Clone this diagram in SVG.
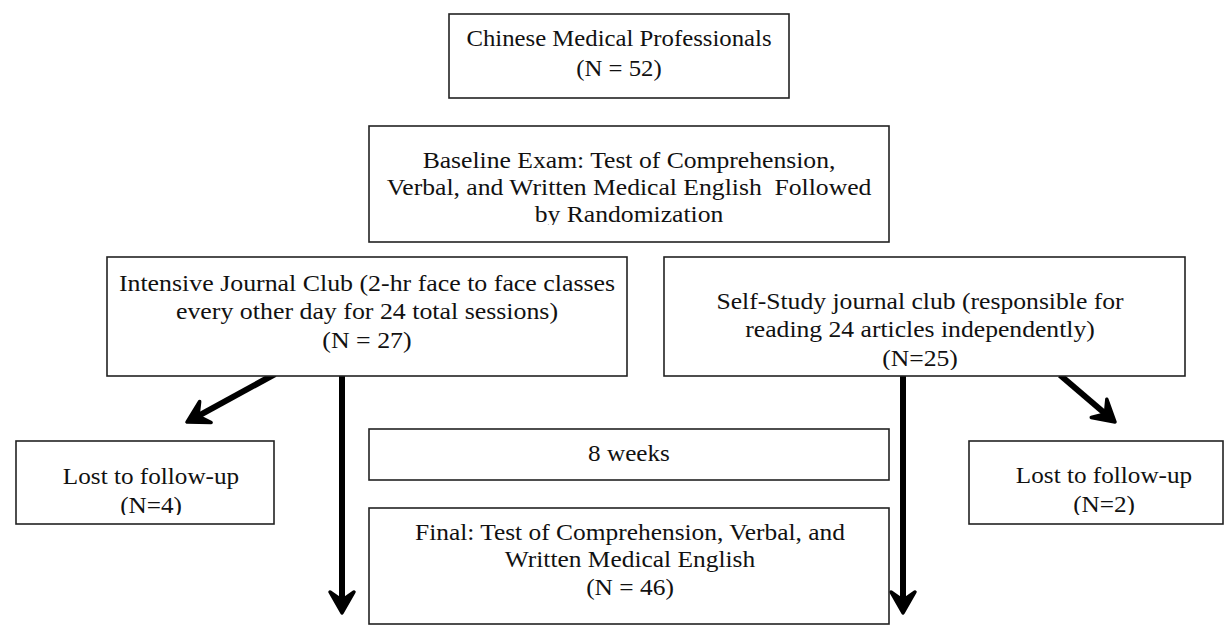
<svg xmlns="http://www.w3.org/2000/svg" width="1225" height="635" viewBox="0 0 1225 635">
<style>
.box{fill:#fff;stroke:#222;stroke-width:1.6}
.t{font-family:"Liberation Serif","Times New Roman",serif;font-size:22.5px;fill:#111;text-anchor:middle}
.con{stroke:#000;stroke-width:6;fill:none}
</style>
<defs>
<marker id="ah" markerUnits="userSpaceOnUse" orient="auto" refX="-12" refY="0" markerWidth="40" markerHeight="40" overflow="visible">
<path d="M0,0 L-21,-12 L-14,-2 L-14,2 L-21,12 Z" fill="#000" stroke="#000" stroke-width="3.5" stroke-linejoin="round"/>
</marker>
<clipPath id="c1"><rect x="360" y="120" width="530" height="105"/></clipPath>
<clipPath id="c2"><rect x="660" y="250" width="530" height="120"/></clipPath>
<clipPath id="c3"><rect x="10" y="430" width="270" height="85"/></clipPath>
<clipPath id="c4"><rect x="960" y="430" width="265" height="85"/></clipPath>
</defs>
<rect width="1225" height="635" fill="#fff"/>
<g id="connectors">
<line class="con" x1="342" y1="370" x2="342" y2="601" marker-end="url(#ah)"/>
<line class="con" x1="903" y1="376" x2="903" y2="601" marker-end="url(#ah)"/>
<line class="con" x1="275" y1="374" x2="197.5" y2="416.3" marker-end="url(#ah)"/>
<line class="con" x1="1060" y1="375" x2="1105.9" y2="414.2" marker-end="url(#ah)"/>
</g>
<g id="n-chinese">
<rect class="box" x="449" y="14" width="340" height="84"/>
<text class="t" transform="translate(619 0) scale(1.1 1)"><tspan x="0" y="46">Chinese Medical Professionals</tspan><tspan x="0" y="76">(N = 52)</tspan></text>
</g>
<g id="n-baseline">
<rect class="box" x="369" y="126" width="520" height="116"/>
<g clip-path="url(#c1)">
<text class="t" transform="translate(629 0) scale(1.14 1)"><tspan x="0" y="168">Baseline Exam: Test of Comprehension,</tspan><tspan x="0" y="195">Verbal, and Written Medical English&#160; Followed</tspan><tspan x="0" y="222">by Randomization</tspan></text>
</g>
</g>
<g id="n-intensive">
<rect class="box" x="107" y="257" width="520" height="119"/>
<text class="t" transform="translate(367 0) scale(1.15 1)"><tspan x="0" y="291">Intensive Journal Club (2-hr face to face classes</tspan><tspan x="0" y="319">every other day for 24 total sessions)</tspan><tspan x="0" y="348">(N = 27)</tspan></text>
</g>
<g id="n-selfstudy">
<rect class="box" x="664" y="257" width="521" height="119"/>
<g clip-path="url(#c2)">
<text class="t" transform="translate(920 0) scale(1.14 1)"><tspan x="0" y="309">Self-Study journal club (responsible for</tspan><tspan x="0" y="337">reading 24 articles independently)</tspan><tspan x="0" y="366">(N=25)</tspan></text>
</g>
</g>
<g id="n-lost-left">
<rect class="box" x="16" y="441" width="258" height="83"/>
<g clip-path="url(#c3)">
<text class="t" transform="translate(151 0) scale(1.12 1)"><tspan x="0" y="484">Lost to follow-up</tspan><tspan x="0" y="513">(N=4)</tspan></text>
</g>
</g>
<g id="n-8weeks">
<rect class="box" x="369" y="429" width="520" height="51"/>
<text class="t" transform="translate(629 0) scale(1.12 1)"><tspan x="0" y="461">8 weeks</tspan></text>
</g>
<g id="n-final">
<rect class="box" x="369" y="508" width="520" height="116"/>
<text class="t" transform="translate(630 0) scale(1.13 1)"><tspan x="0" y="540">Final: Test of Comprehension, Verbal, and</tspan><tspan x="0" y="567">Written Medical English</tspan><tspan x="0" y="595">(N = 46)</tspan></text>
</g>
<g id="n-lost-right">
<rect class="box" x="969" y="441" width="254" height="83"/>
<g clip-path="url(#c4)">
<text class="t" transform="translate(1104 0) scale(1.12 1)"><tspan x="0" y="483">Lost to follow-up</tspan><tspan x="0" y="512">(N=2)</tspan></text>
</g>
</g>
</svg>
